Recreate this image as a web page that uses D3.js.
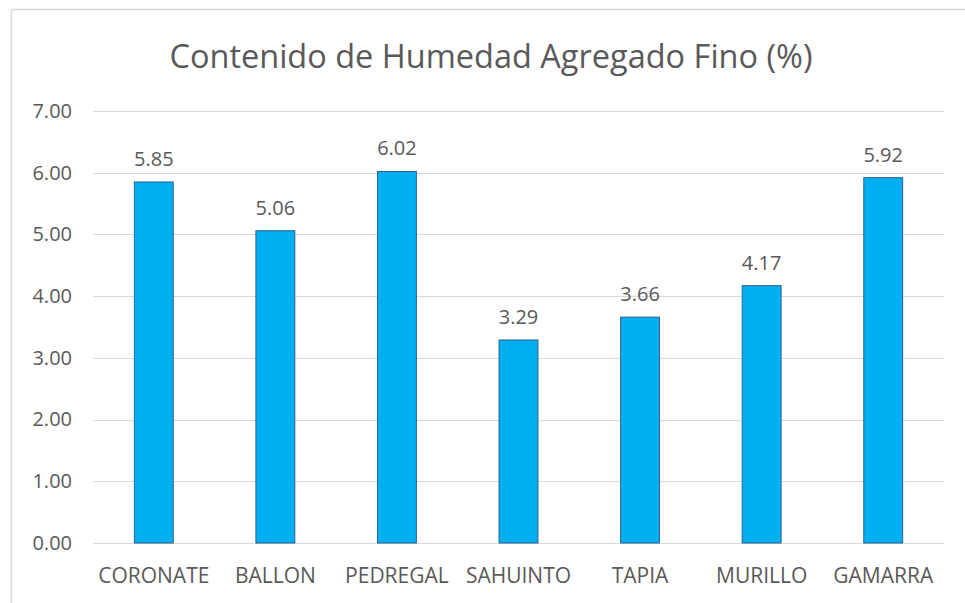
<!DOCTYPE html>
<html>
<head>
<meta charset="utf-8">
<script src="https://cdn.jsdelivr.net/npm/d3@7"></script>
<style>
  body { margin: 0; background: #fff; }
  svg text { font-family: "Open Sans", sans-serif; fill: #595959; }
</style>
</head>
<body>
<div id="vis"></div>
<script>

var categories = ['CORONATE', 'BALLON', 'PEDREGAL', 'SAHUINTO', 'TAPIA', 'MURILLO', 'GAMARRA'];
var values = [5.85, 5.06, 6.02, 3.29, 3.66, 4.17, 5.92];
var yTicks = [0, 1, 2, 3, 4, 5, 6, 7];
var title = 'Contenido de Humedad Agregado Fino (%)';

var width = 965, height = 603;
var margin = { left: 93, right: 21, top: 111, bottom: 60 };

var svg = d3.select('#vis')
	.append('svg')
	.attr('width', width)
	.attr('height', height);

// chart frame (right and bottom edges run off the picture)
svg.append('rect')
	.attr('x', 11.5)
	.attr('y', 9.5)
	.attr('width', 980)
	.attr('height', 620)
	.attr('fill', 'none')
	.attr('stroke', '#d9d9d9')
	.attr('stroke-width', 1.5);

var x = d3.scaleBand()
	.domain(categories)
	.range([margin.left, width - margin.right])
	.paddingInner(0.68)
	.paddingOuter(0.34);

var y = d3.scaleLinear()
	.domain([0, 7])
	.range([height - margin.bottom, margin.top]);

// gridlines
svg.selectAll('.grid')
	.data(yTicks)
	.enter().append('line')
	.attr('class', 'grid')
	.attr('x1', margin.left)
	.attr('x2', width - margin.right)
	.attr('y1', function (d) { return Math.round(y(d)) + 0.5; })
	.attr('y2', function (d) { return Math.round(y(d)) + 0.5; })
	.attr('stroke', '#d9d9d9')
	.attr('stroke-width', 1);

// y axis labels
var yAxis = d3.axisLeft(y)
	.tickValues(yTicks)
	.tickFormat(d3.format('.2f'))
	.tickSize(0)
	.tickPadding(21);

var yg = svg.append('g')
	.attr('transform', 'translate(' + margin.left + ',0)')
	.call(yAxis);
yg.select('.domain').remove();
yg.selectAll('text').style('font-size', '20px').attr('fill', '#595959');

// x axis labels
var xAxis = d3.axisBottom(x).tickSize(0).tickPadding(25);
var xg = svg.append('g')
	.attr('transform', 'translate(0,' + y(0) + ')')
	.call(xAxis);
xg.select('.domain').remove();
xg.selectAll('text').style('font-size', '21px').attr('fill', '#595959');

// bars
svg.selectAll('.bar')
	.data(values)
	.enter().append('rect')
	.attr('class', 'bar')
	.attr('x', function (d, i) { return x(categories[i]); })
	.attr('y', function (d) { return y(d); })
	.attr('width', x.bandwidth())
	.attr('height', function (d) { return y(0) - y(d); })
	.attr('fill', '#00b0f0')
	.attr('stroke', '#2f5f8f')
	.attr('stroke-width', 1);

// value labels
svg.selectAll('.label')
	.data(values)
	.enter().append('text')
	.attr('class', 'label')
	.attr('x', function (d, i) { return x(categories[i]) + x.bandwidth() / 2; })
	.attr('y', function (d) { return y(d) - 16; })
	.attr('text-anchor', 'middle')
	.style('font-size', '20px')
	.text(function (d) { return d.toFixed(2); });

// title
svg.append('text')
	.attr('x', 491)
	.attr('y', 68)
	.attr('text-anchor', 'middle')
	.style('font-size', '32.5px')
	.text(title);

</script>
</body>
</html>
